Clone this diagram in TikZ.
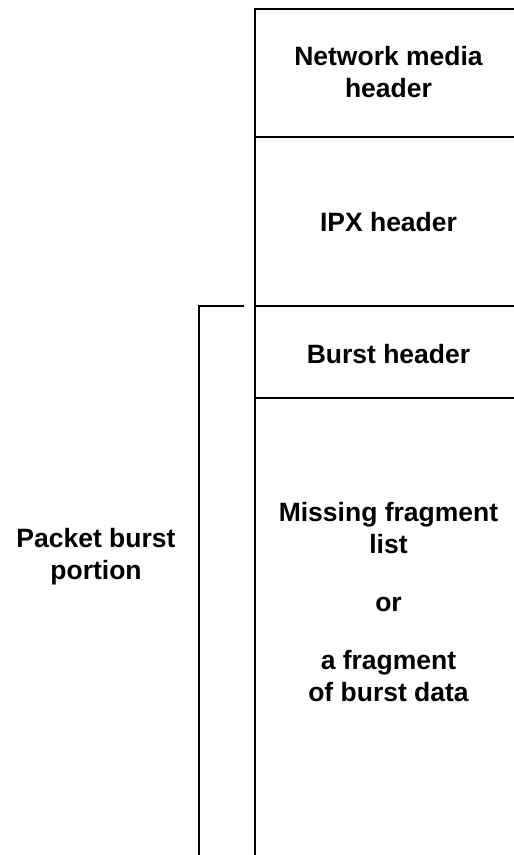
\documentclass[tikz,border=0pt]{standalone}
\usepackage{fontspec}
\setmainfont{Liberation Sans}
\begin{document}
\begin{tikzpicture}[x=1pt,y=-1pt,
  rule/.style={line width=2pt,line cap=rect},
  label/.style={font=\fontsize{26.5}{32}\selectfont\bfseries,align=center,inner sep=0pt}]
\useasboundingbox (0,0) rectangle (514,855);
\clip (0,0) rectangle (514,855);

% packet layout: stacked fields, open at the right and at the bottom
\coordinate (tl) at (255,9);
\coordinate (tr) at (530,9);
\coordinate (bl) at (255,870);
\coordinate (m1l) at (255,137);
\coordinate (m1r) at (530,137);
\coordinate (m2l) at (255,306);
\coordinate (m2r) at (530,306);
\coordinate (m3l) at (255,398);
\coordinate (m3r) at (530,398);
\draw[rule] (bl) -- (tl) -- (tr);
\draw[rule] (m1l) -- (m1r);
\draw[rule] (m2l) -- (m2r);
\draw[rule] (m3l) -- (m3r);

\node[label] (media) at (388.5,72) {Network media\\header};
\node[label] (ipx) at (388.5,222) {IPX header};
\node[label] (burst) at (388.5,354) {Burst header};
\node[label] (data) at (388.5,602) {Missing fragment\\list\\[26pt]or\\[26pt]a fragment\\of burst data};

% bracket marking the packet burst portion
\coordinate (bt) at (243,306);
\coordinate (bc) at (199,306);
\coordinate (bb) at (199,870);
\draw[rule] (bt) -- (bc) -- (bb);
\node[label] (portion) at (96,557) {Packet burst\\portion};
\end{tikzpicture}
\end{document}
